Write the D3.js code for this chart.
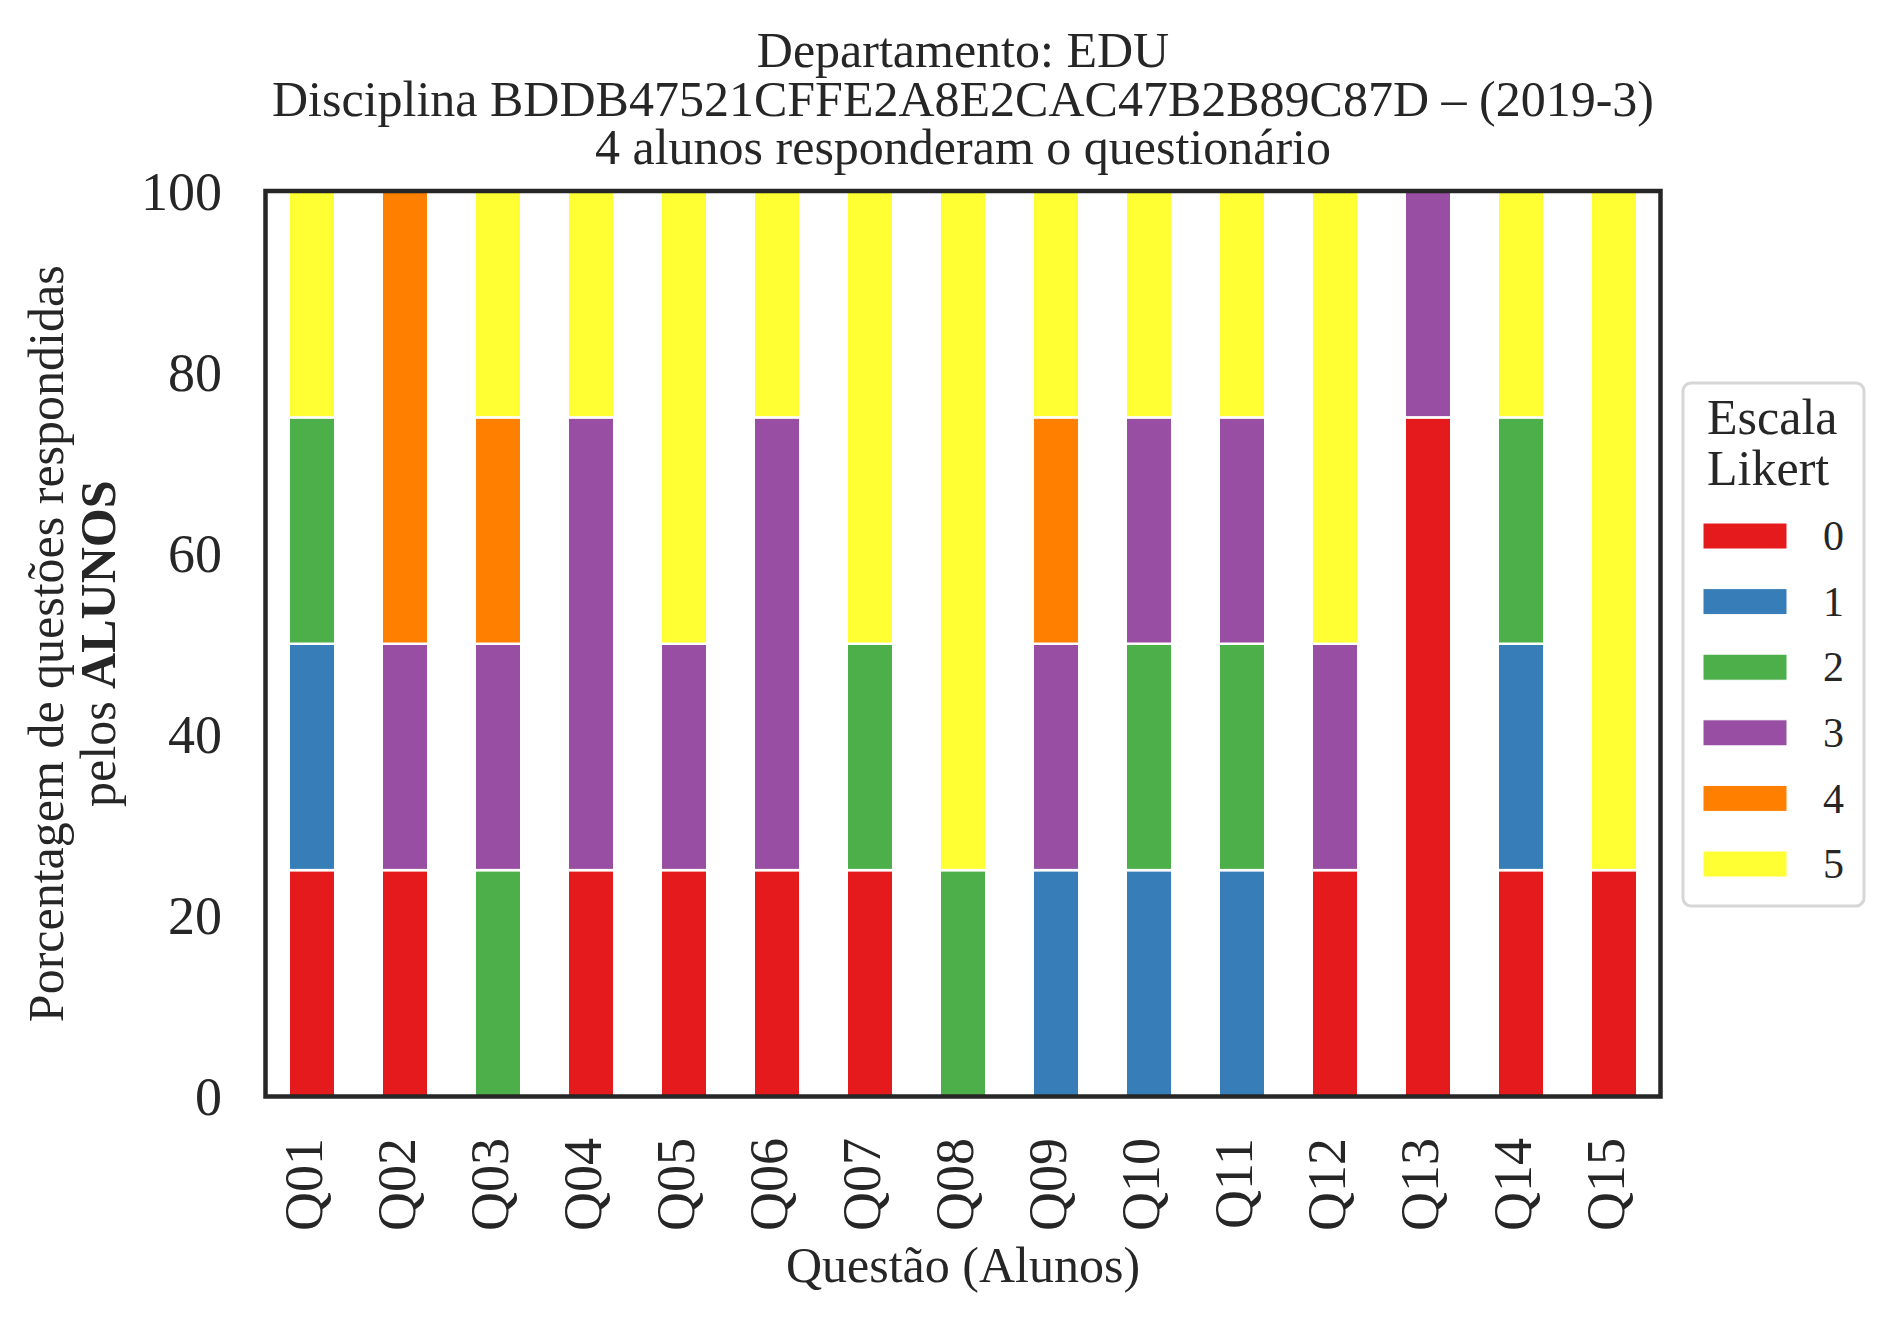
<!DOCTYPE html>
<html>
<head>
<meta charset="utf-8">
<script src="https://cdn.jsdelivr.net/npm/d3@7"></script>
<style>
body { margin: 0; background: #fff; }
text { font-family: "Liberation Serif", "Times New Roman", serif; fill: #262626; }
</style>
</head>
<body>
<svg id="chart" width="1892" height="1323"></svg>
<script>
// data: share (%) of the 4 students per Likert level, per question
var questions = ["Q01","Q02","Q03","Q04","Q05","Q06","Q07","Q08","Q09","Q10","Q11","Q12","Q13","Q14","Q15"];
var likert = ["0","1","2","3","4","5"];
var likert0 = [25,25,0,25,25,25,25,0,0,0,0,25,75,25,25];
var likert1 = [25,0,0,0,0,0,0,0,25,25,25,0,0,25,0];
var likert2 = [25,0,25,0,0,0,25,25,0,25,25,0,0,25,0];
var likert3 = [0,25,25,50,25,50,0,0,25,25,25,25,25,0,0];
var likert4 = [0,50,25,0,0,0,0,0,25,0,0,0,0,0,0];
var likert5 = [25,0,25,25,50,25,50,75,25,25,25,50,0,25,75];
var colors = ["#e41a1c","#377eb8","#4daf4a","#984ea3","#ff7f00","#ffff33"];
var yTicks = [0,20,40,60,80,100];
var titleLines = ["Departamento: EDU",
                  "Disciplina BDDB47521CFFE2A8E2CAC47B2B89C87D \u2013 (2019-3)",
                  "4 alunos responderam o questionário"];

var plotLeft = 265.5, plotRight = 1660.5, plotTop = 191, plotBottom = 1096.5;
var svg = d3.select("#chart");

var series = [likert0, likert1, likert2, likert3, likert4, likert5];
var table = questions.map(function(q, i) {
  var row = { q: q };
  likert.forEach(function(k, j) { row[k] = series[j][i]; });
  return row;
});

var x = d3.scaleBand()
  .domain(questions)
  .range([plotLeft, plotRight])
  .paddingInner(0.5)
  .paddingOuter(0.25);

var y = d3.scaleLinear()
  .domain([0, 100])
  .range([plotBottom, plotTop]);

var color = d3.scaleOrdinal().domain(likert).range(colors);

var stacked = d3.stack().keys(likert)(table);

svg.append("g")
  .selectAll("g")
  .data(stacked)
  .enter().append("g")
    .attr("fill", function(d) { return color(d.key); })
  .selectAll("rect")
  .data(function(d) { return d.filter(function(s) { return s[1] > s[0]; }); })
  .enter().append("rect")
    .attr("x", function(d) { return x(d.data.q); })
    .attr("width", x.bandwidth())
    .attr("y", function(d) { return y(d[1]); })
    .attr("height", function(d) { return y(d[0]) - y(d[1]); })
    .attr("stroke", "#fff")
    .attr("stroke-width", 2.5);

// y axis
var yAxis = svg.append("g")
  .attr("transform", "translate(" + plotLeft + ",0)")
  .call(d3.axisLeft(y).tickValues(yTicks).tickSize(0).tickPadding(43.5));
yAxis.select(".domain").remove();
yAxis.selectAll("text")
  .attr("font-size", 54)
  .attr("dy", "0.34em")
  .style("font-family", "Liberation Serif, serif")
  .style("fill", "#262626");

// x axis
var xAxis = svg.append("g")
  .attr("transform", "translate(0," + plotBottom + ")")
  .call(d3.axisBottom(x).tickSize(0));
xAxis.select(".domain").remove();
xAxis.selectAll("text")
  .attr("font-size", 54)
  .attr("transform", "rotate(-90)")
  .attr("x", -41.5)
  .attr("y", 0)
  .attr("dy", "0.19em")
  .style("text-anchor", "end")
  .style("font-family", "Liberation Serif, serif")
  .style("fill", "#262626");

// frame
svg.append("rect")
  .attr("x", plotLeft)
  .attr("y", plotTop)
  .attr("width", plotRight - plotLeft)
  .attr("height", plotBottom - plotTop)
  .attr("fill", "none")
  .attr("stroke", "#262626")
  .attr("stroke-width", 4.5);

// title
svg.append("g")
  .selectAll("text")
  .data(titleLines)
  .enter().append("text")
    .attr("x", (plotLeft + plotRight) / 2)
    .attr("y", function(d, i) { return 67 + i * 48.5; })
    .attr("text-anchor", "middle")
    .attr("font-size", 50)
    .text(function(d) { return d; });

// axis titles
svg.append("text")
  .attr("transform", "translate(63," + ((plotTop + plotBottom) / 2) + ") rotate(-90)")
  .attr("text-anchor", "middle")
  .attr("font-size", 50)
  .text("Porcentagem de questões respondidas");
var yl2 = svg.append("text")
  .attr("transform", "translate(115," + ((plotTop + plotBottom) / 2) + ") rotate(-90)")
  .attr("text-anchor", "middle")
  .attr("font-size", 50);
yl2.append("tspan").text("pelos ");
yl2.append("tspan").attr("font-weight", "bold").text("ALUNOS");

svg.append("text")
  .attr("x", (plotLeft + plotRight) / 2)
  .attr("y", 1282)
  .attr("text-anchor", "middle")
  .attr("font-size", 50)
  .text("Questão (Alunos)");

// legend
var legend = svg.append("g");
legend.append("rect")
  .attr("x", 1683)
  .attr("y", 383)
  .attr("width", 181)
  .attr("height", 523)
  .attr("rx", 8)
  .attr("fill", "#fff")
  .attr("fill-opacity", 0.8)
  .attr("stroke", "#d6d6d6")
  .attr("stroke-width", 3);
legend.append("text").attr("x", 1707).attr("y", 434).attr("font-size", 50).text("Escala");
legend.append("text").attr("x", 1707).attr("y", 485).attr("font-size", 50).text("Likert");

var rows = legend.selectAll("g.row")
  .data(likert)
  .enter().append("g")
    .attr("class", "row")
    .attr("transform", function(d, i) { return "translate(0," + (536 + i * 65.6) + ")"; });
rows.append("rect")
  .attr("x", 1703)
  .attr("y", -13)
  .attr("width", 84)
  .attr("height", 26)
  .attr("fill", function(d) { return color(d); })
  .attr("stroke", "#fff")
  .attr("stroke-width", 1);
rows.append("text")
  .attr("x", 1823)
  .attr("dy", "0.34em")
  .attr("font-size", 42)
  .text(function(d) { return d; });
</script>
</body>
</html>
